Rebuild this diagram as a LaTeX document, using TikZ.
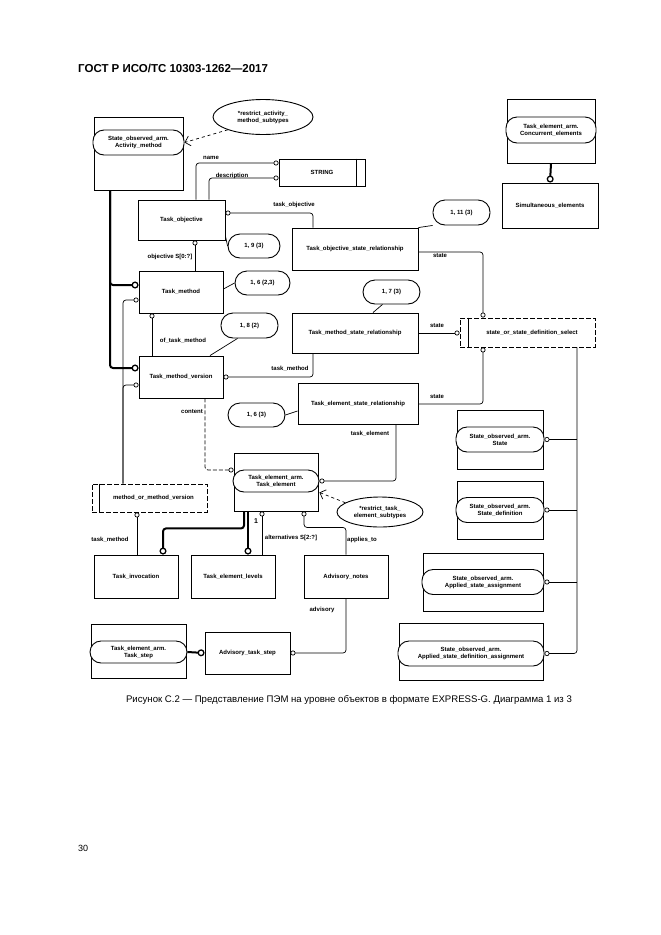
\documentclass[tikz,border=0pt]{standalone}
\usepackage{fontspec}
\setmainfont{Liberation Sans}
\usetikzlibrary{arrows.meta,shapes.geometric}
\begin{document}
\begin{tikzpicture}[x=1pt,y=-1pt,
  font=\bfseries\fontsize{6}{7}\selectfont,
  box/.style={draw,line width=0.9pt,inner sep=0,align=center},
  rnd/.style={draw,line width=0.9pt,fill=white,inner sep=0,align=center,rounded corners=11pt},
  lbl/.style={inner sep=0},
  c/.style={line width=0.7pt,rounded corners=3pt},
  tk/.style={line width=2pt,rounded corners=3pt},
  oc/.style={-{Circle[open,length=5pt,line width=0.7pt]}},
  co/.style={{Circle[open,length=5pt,line width=0.7pt]}-},
  toc/.style={-{Circle[open,length=7pt,line width=1.3pt]}},
  rel/.style={dashed,line width=0.7pt,-{Straight Barb[length=5pt]}}]
\useasboundingbox[fill=white] (0,0) rectangle (661,935);
\node[anchor=west,font=\bfseries\fontsize{11.5}{13}\selectfont,inner sep=0] (hdr) at (78,68) {ГОСТ Р ИСО/ТС 10303-1262—2017};
% boxes
\node[box,minimum width=89,minimum height=73] (so) at (138.5,153.5) {};
\node[rnd,minimum width=91,minimum height=25] (soin) at (138.5,142.5) {State\_observed\_arm.\\Activity\_method};
\node[draw,ellipse,line width=0.9pt,minimum width=100,minimum height=35,inner sep=0,align=center] (ra) at (263,117) {*restrict\_activity\_\\method\_subtypes};
\node[box,minimum width=86,minimum height=27] (str) at (322,172.5) {STRING};
\draw[line width=0.9pt] ([xshift=-9pt]str.north east) -- ([xshift=-9pt]str.south east);
\node[box,minimum width=87,minimum height=40] (tobj) at (181.5,220) {Task\_objective};
\node[box,minimum width=126,minimum height=42] (tosr) at (355,249) {Task\_objective\_state\_relationship};
\node[rnd,minimum width=52,minimum height=24,rounded corners=12pt] (c19) at (254,246) {1, 9 (3)};
\node[box,minimum width=84,minimum height=42] (tmeth) at (181,292) {Task\_method};
\node[rnd,minimum width=55,minimum height=24,rounded corners=12pt] (c16) at (262.5,283) {1, 6 (2,3)};
\node[rnd,minimum width=57,minimum height=25,rounded corners=12pt] (c111) at (461.5,212.5) {1, 11 (3)};
\node[box,dashed,dash pattern=on 5pt off 2pt,minimum width=135,minimum height=29] (sel) at (527.5,332.5) {\hspace{9pt}state\_or\_state\_definition\_select};
\draw[line width=0.9pt] ([xshift=9pt]sel.north west) -- ([xshift=9pt]sel.south west);
\node[box,minimum width=126,minimum height=40] (tmsr) at (355,333) {Task\_method\_state\_relationship};
\node[rnd,minimum width=57,minimum height=24,rounded corners=12pt] (c17) at (391.5,292) {1, 7 (3)};
\node[box,minimum width=84,minimum height=42] (tmv) at (181,377) {Task\_method\_version};
\node[rnd,minimum width=57,minimum height=25,rounded corners=12pt] (c18) at (249.5,325.5) {1, 8 (2)};
\node[box,minimum width=120,minimum height=41] (tesr) at (358,403.5) {Task\_element\_state\_relationship};
\node[rnd,minimum width=57,minimum height=24,rounded corners=12pt] (c163) at (256.5,415) {1, 6 (3)};
\node[box,minimum width=84,minimum height=58] (te) at (276,482) {};
\node[rnd,minimum width=86,minimum height=22] (tein) at (276,481) {Task\_element\_arm.\\Task\_element};
\node[draw,ellipse,line width=0.9pt,minimum width=86,minimum height=30,inner sep=0,align=center] (rte) at (380,512) {*restrict\_task\_\\element\_subtypes};
\node[box,dashed,dash pattern=on 5pt off 2pt,minimum width=115,minimum height=28] (momv) at (149.5,498) {\hspace{8pt}method\_or\_method\_version};
\draw[line width=0.9pt] ([xshift=8pt]momv.north west) -- ([xshift=8pt]momv.south west);
\node[box,minimum width=84,minimum height=43] (tinv) at (136,576.5) {Task\_invocation};
\node[box,minimum width=84,minimum height=43] (tel) at (233,576.5) {Task\_element\_levels};
\node[box,minimum width=84,minimum height=43] (an) at (346,576.5) {Advisory\_notes};
\node[box,minimum width=85,minimum height=42] (ats) at (247.5,653) {Advisory\_task\_step};
\node[box,minimum width=95,minimum height=54] (ts) at (138.5,651) {};
\node[rnd,minimum width=97,minimum height=22] (tsin) at (138.5,652) {Task\_element\_arm.\\Task\_step};
\node[box,minimum width=88,minimum height=64] (ce) at (551,131) {};
\node[rnd,minimum width=90,minimum height=26] (cein) at (551,130) {Task\_element\_arm.\\Concurrent\_elements};
\node[box,minimum width=96,minimum height=45] (se) at (550,205.5) {Simultaneous\_elements};
\node[box,minimum width=86,minimum height=59] (sos) at (500,439.5) {};
\node[rnd,minimum width=88,minimum height=25] (sosin) at (500,439.5) {State\_observed\_arm.\\State};
\node[box,minimum width=86,minimum height=58] (sosd) at (500,510) {};
\node[rnd,minimum width=88,minimum height=25] (sosdin) at (500,510) {State\_observed\_arm.\\State\_definition};
\node[box,minimum width=120,minimum height=58] (sasa) at (483,582) {};
\node[rnd,minimum width=122,minimum height=25] (sasain) at (483,582) {State\_observed\_arm.\\Applied\_state\_assignment};
\node[box,minimum width=144,minimum height=57] (sasda) at (471,651.5) {};
\node[rnd,minimum width=146,minimum height=25] (sasdain) at (471,653.5) {State\_observed\_arm.\\Applied\_state\_definition\_assignment};
% relations
\draw[rel] (ra.200) -- (soin.east);
\draw[rel] (rte.165) -- (tein.south east);
\draw[c,oc] ([xshift=14.5pt]tobj.north) |- ([yshift=9.5pt]str.west);
\draw[c,oc] ([xshift=27.5pt]tobj.north) |- ([yshift=-5.5pt]str.west);
\draw[c,co] ([yshift=7pt]tobj.east) -| ([xshift=-42pt]tosr.north);
\draw[c] ([yshift=-16pt]tobj.east) -- (c19.west);
\draw[c,co] ([xshift=13.5pt]tobj.south) -- ([xshift=14pt]tmeth.north);
\draw[c] ([yshift=3pt]tmeth.east) -- (c16.west);
\draw[c] (tosr.north east) -- (c111.south west);
\draw[c,oc] ([yshift=-3pt]tosr.east) -| ([xshift=-44.5pt]sel.north);
\draw[c] ([xshift=18pt]tmsr.north) -- ([xshift=-9pt]c17.south);
\draw[c,oc] (tmsr.east) -- (tmsr.east -| sel.west);
\draw[c] ([xshift=29pt]tmv.north) -- ([xshift=-12pt]c18.south);
\draw[c,co] ([xshift=-29pt]tmeth.south) -- ([xshift=-29pt]tmv.north);
\draw[c,co] (tmv.east) -| ([xshift=-42pt]tmsr.south);
\draw[tk,toc] ([xshift=-28.5pt]so.south) |- ([yshift=7pt]tmeth.west);
\draw[tk,toc] ([xshift=-28.5pt]so.south) |- ([yshift=9pt]tmv.west);
\draw[c,oc] ([xshift=-26.5pt]momv.north) |- ([yshift=-8pt]tmeth.west);
\draw[c,oc] ([xshift=-26.5pt]momv.north) |- ([yshift=-8pt]tmv.west);
\draw[c,dashed,dash pattern=on 4pt off 2pt,oc] ([xshift=24pt]tmv.south) |- ([yshift=12pt]te.west);
\draw[c] (c163.east) -- ([yshift=-7.5pt]tesr.west);
\draw[c,oc] ([yshift=-0.5pt]tesr.east) -| ([xshift=-44.5pt]sel.south);
\draw[c,co] (tein.east) -| ([xshift=38pt]tesr.south);
\draw[c,co] ([xshift=-12.5pt]momv.south) -- ([xshift=1pt]tinv.north);
\draw[tk,toc] ([xshift=-32pt]te.south) -- ++(0,17) -| ([xshift=27pt]tinv.north);
\draw[tk,toc] ([xshift=-28pt]te.south) -- ([xshift=15pt]tel.north);
\draw[c,co] ([xshift=-14pt]te.south) -- ([xshift=29pt]tel.north);
\draw[c,co] ([xshift=28pt]te.south) -- ++(0,16) -| (an.north);
\draw[c,oc] (an.south) |- (ats.east);
\draw[tk,toc] (tsin.east) -- (ats.west);
\draw[tk,toc] (ce.south) -- (se.north);
\coordinate (bus) at (577,0);
\draw[c,oc] ([xshift=49.5pt]sel.south) |- (sasdain.east);
\draw[c,co] (sosin.east) -- (sosin.east -| bus);
\draw[c,co] (sosdin.east) -- (sosdin.east -| bus);
\draw[c,co] (sasain.east) -- (sasain.east -| bus);
% labels
\node[lbl] (l1) at (211,158) {name};
\node[lbl] (l2) at (232,176) {description};
\node[lbl] (l3) at (294,205) {task\_objective};
\node[lbl] (l4) at (170,257) {objective S[0:?]};
\node[lbl] (l5) at (183,341) {of\_task\_method};
\node[lbl] (l6) at (290,369) {task\_method};
\node[lbl] (l7) at (192,412) {content};
\node[lbl] (l8) at (440,256) {state};
\node[lbl] (l9) at (437,326) {state};
\node[lbl] (l10) at (437,397) {state};
\node[lbl] (l11) at (370,434) {task\_element};
\node[lbl] (l12) at (110,540) {task\_method};
\node[lbl,font=\bfseries\fontsize{7}{8}\selectfont] (l13) at (256,521) {1};
\node[lbl] (l14) at (291,538) {alternatives S[2:?]};
\node[lbl] (l15) at (362,540) {applies\_to};
\node[lbl] (l16) at (322,610) {advisory};
\node[font=\mdseries\fontsize{9.6}{11}\selectfont,inner sep=0] (cap) at (349,700) {Рисунок С.2 — Представление ПЭМ на уровне объектов в формате EXPRESS-G. Диаграмма 1 из 3};
\node[anchor=west,font=\mdseries\fontsize{9}{10}\selectfont,inner sep=0] (pg) at (78,848) {30};
\end{tikzpicture}
\end{document}
